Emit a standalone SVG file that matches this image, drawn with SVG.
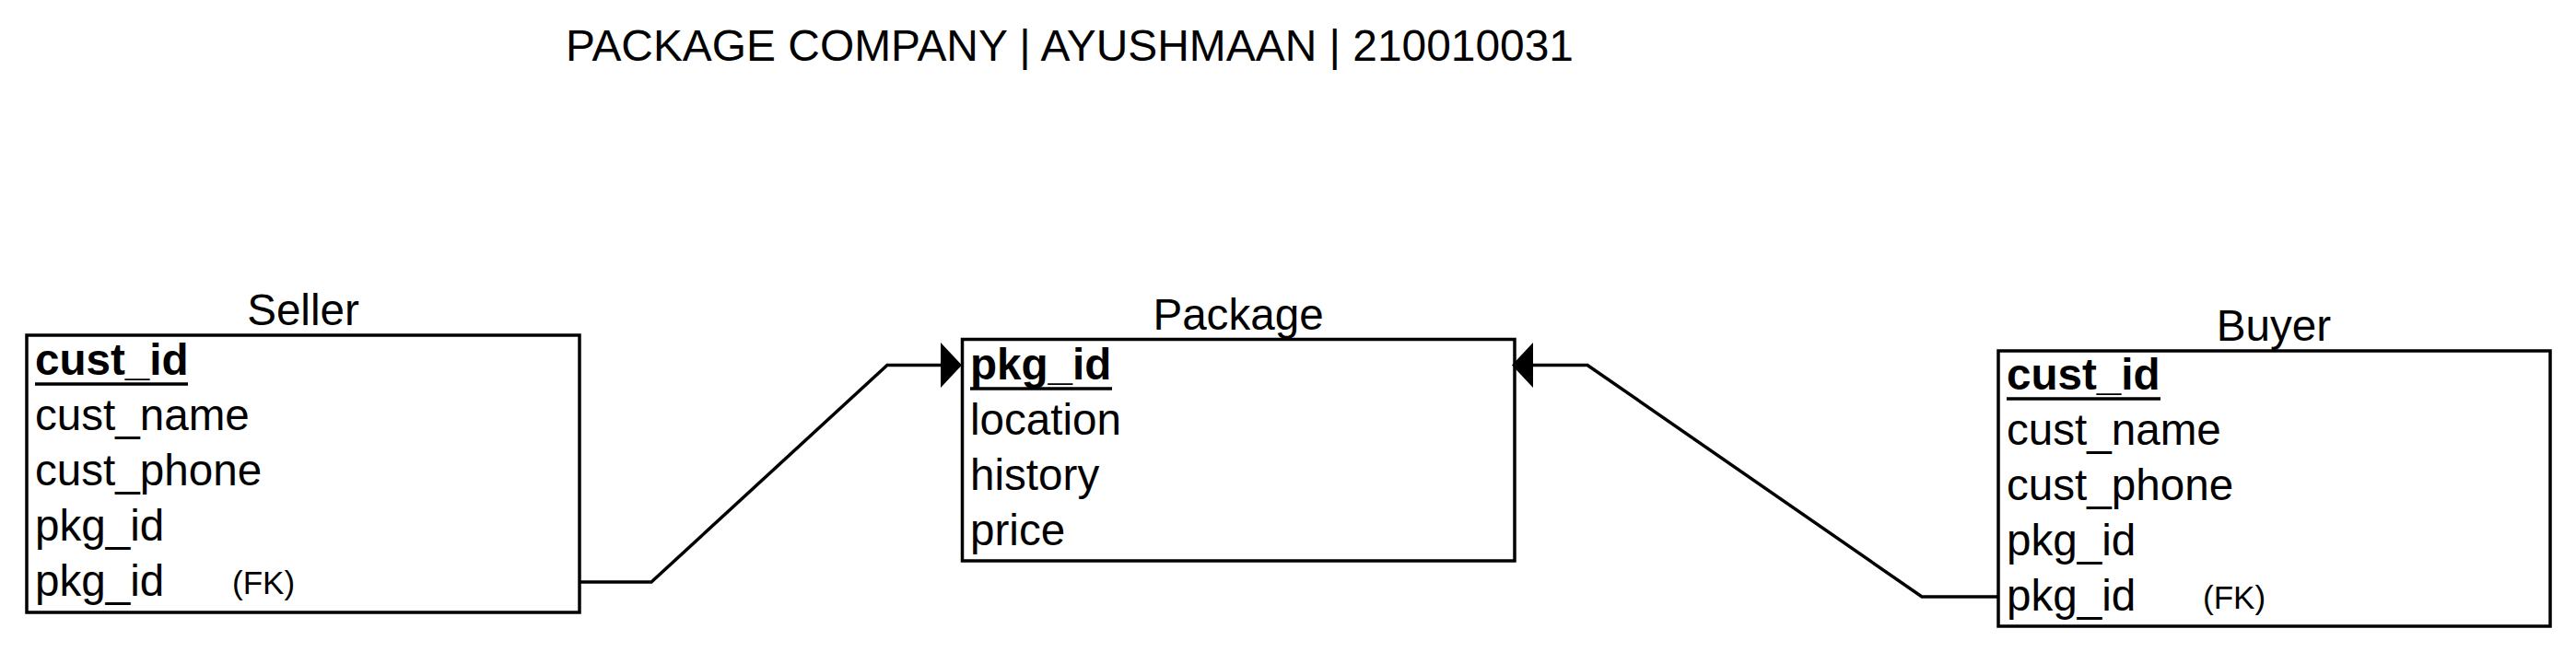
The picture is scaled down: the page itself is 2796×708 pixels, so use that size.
<svg xmlns="http://www.w3.org/2000/svg" width="2796" height="708" viewBox="0 0 2796 708">
<style>
text{font-family:"Liberation Sans",Arial,sans-serif;fill:#000}
.t{font-size:47.6px}
.lbl{font-size:47.6px;text-anchor:middle}
.pk{font-size:47.6px;font-weight:bold}
.fk{font-size:35px}
.box{fill:#fff;stroke:#000;stroke-width:3.5}
.ul{stroke:#000;stroke-width:3.5}
.conn{fill:none;stroke:#000;stroke-width:3.5}
.arr{fill:#000;stroke:none}
</style>
<rect width="2796" height="708" fill="#fff"/>
<text class="t" x="614" y="66" textLength="1094" lengthAdjust="spacingAndGlyphs">PACKAGE COMPANY | AYUSHMAAN | 210010031</text>
<g id="seller">
<text class="lbl" x="329" y="353">Seller</text>
<rect class="box" x="29" y="364" width="600" height="301"/>
<text class="pk" x="38" y="407">cust_id</text>
<line class="ul" x1="38" y1="417" x2="204" y2="417"/>
<text class="t" x="38" y="467">cust_name</text>
<text class="t" x="38" y="527">cust_phone</text>
<text class="t" x="38" y="587">pkg_id</text>
<text class="t" x="38" y="647">pkg_id</text>
<text class="fk" x="252" y="645">(FK)</text>
</g>
<g id="package">
<text class="lbl" x="1344" y="358">Package</text>
<rect class="box" x="1044.5" y="368.5" width="599.5" height="240.5"/>
<text class="pk" x="1053" y="412">pkg_id</text>
<line class="ul" x1="1053" y1="422" x2="1207" y2="422"/>
<text class="t" x="1053" y="472">location</text>
<text class="t" x="1053" y="532">history</text>
<text class="t" x="1053" y="592">price</text>
</g>
<g id="buyer">
<text class="lbl" x="2468" y="370">Buyer</text>
<rect class="box" x="2169" y="381" width="599" height="299"/>
<text class="pk" x="2178" y="423">cust_id</text>
<line class="ul" x1="2178" y1="433" x2="2345" y2="433"/>
<text class="t" x="2178" y="483">cust_name</text>
<text class="t" x="2178" y="543">cust_phone</text>
<text class="t" x="2178" y="603">pkg_id</text>
<text class="t" x="2178" y="663">pkg_id</text>
<text class="fk" x="2391" y="661">(FK)</text>
</g>
<g id="connectors">
<path class="conn" d="M629,632 H707 L963,396.5 H1022"/>
<polygon class="arr" points="1021,372 1044,396.5 1021,421"/>
<path class="conn" d="M2169,648 H2086 L1723,396.5 H1663"/>
<polygon class="arr" points="1664,372 1641,396.5 1664,421"/>
</g>
</svg>
